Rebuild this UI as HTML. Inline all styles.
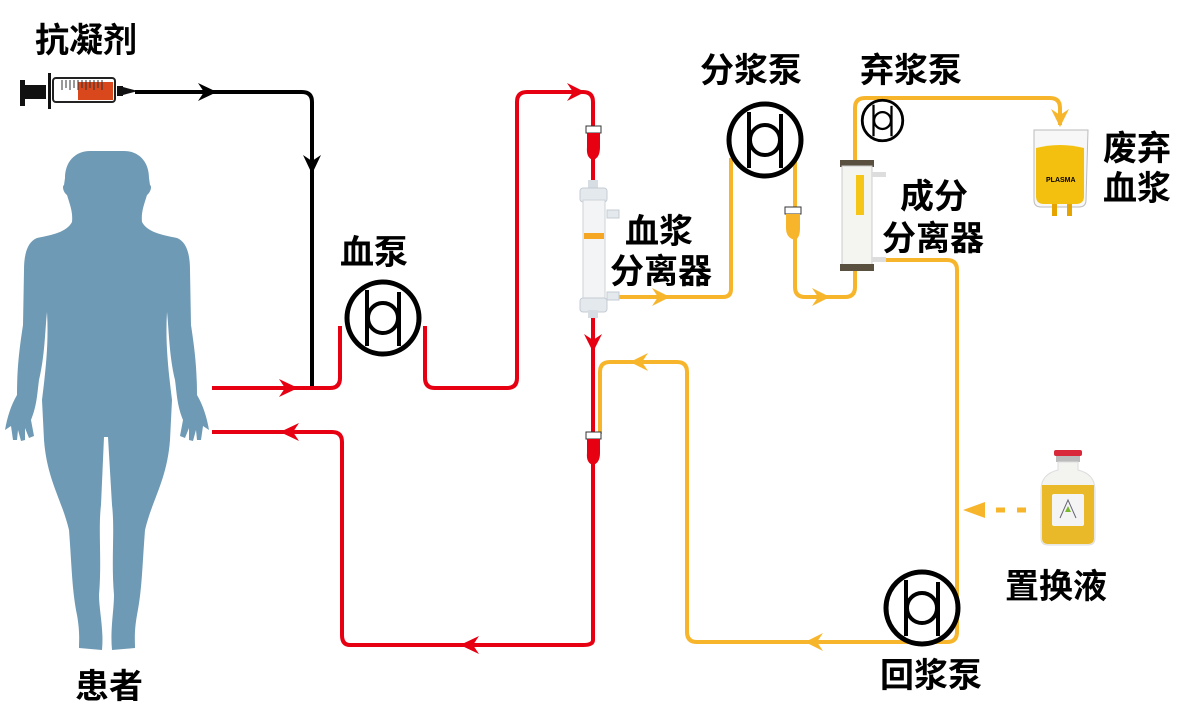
<!DOCTYPE html>
<html><head><meta charset="utf-8"><style>
html,body{margin:0;padding:0;background:#fff;}
svg{display:block}
text{font-family:"Liberation Sans","Noto Sans CJK SC",sans-serif;font-weight:bold;fill:#000;}
</style></head><body>
<svg width="1182" height="715" viewBox="0 0 1182 715" xmlns="http://www.w3.org/2000/svg">
<defs>
<symbol id="pump" viewBox="-40 -40 80 80" overflow="visible">
<circle cx="0" cy="0" r="36" fill="#fff" stroke="#000" stroke-width="5"/>
<line x1="-16" y1="-28" x2="-16" y2="28" stroke="#000" stroke-width="4"/>
<line x1="16" y1="-26" x2="16" y2="28" stroke="#000" stroke-width="4"/>
<circle cx="0" cy="0" r="15" fill="none" stroke="#000" stroke-width="4"/>
</symbol>
</defs>

<!-- patient silhouette -->
<path fill="#6f9ab5" d="M107 151 C122 151 132 162 132 178 L133 185 C135 186 134 192 130 195 C127 205 124 212 125 222 C130 232 145 235 160 238 C170 242 173 255 173 270 L174 325 C177 345 180 365 180 395 C186 405 190 418 192 430 L186 426 L184 440 L180 440 L179 430 L176 441 L172 440 L172 428 L168 438 L163 436 L166 420 C160 405 160 395 158 380 C152 355 152 330 150 312 C148 345 152 375 155 400 L153 440 C150 480 135 500 128 530 C125 570 125 590 120 615 C117 632 118 640 118 648 L95 650 C93 630 97 610 97 595 C94 560 98 530 95 505 L91 437 L87 437 L84 505 C81 530 85 560 82 595 C82 610 87 630 85 650 L62 648 C62 640 63 632 60 615 C55 590 55 570 52 530 C45 500 30 480 27 440 L25 400 C28 375 32 345 30 312 C28 330 28 355 22 380 C20 395 20 405 14 420 L17 436 L12 438 L8 428 L8 440 L4 441 L1 430 L0 440 L-4 440 L-6 426 L-12 430 C-10 418 -6 405 0 395 C0 365 3 345 6 325 L7 270 C7 255 10 242 20 238 C35 235 50 232 55 222 C56 212 53 205 50 195 C46 192 45 186 47 185 L48 178 C48 162 58 151 73 151 Z" transform="translate(17 0)"/>
<text x="75" y="698" font-size="34">患者</text>

<!-- syringe -->
<g>
<rect x="20" y="80" width="5" height="26" fill="#111"/>
<rect x="25" y="85" width="21" height="14" fill="#111"/>
<rect x="48" y="73" width="3" height="36" fill="#111"/>
<rect x="53" y="78" width="62" height="24" rx="3" fill="#fff" stroke="#222" stroke-width="2"/>
<rect x="78" y="82" width="35" height="18" fill="#d9471d"/>
<path d="M62 80v10M66 80v8M70 80v10M74 80v8M78 80v10M82 80v8M86 80v10M90 80v8M94 80v10M98 80v8M102 80v10" stroke="#333" stroke-width="1"/>
<rect x="117" y="86" width="6" height="10" fill="#111"/>
<path d="M123 87 L138 91 L123 95 Z" fill="#111"/>
</g>
<text x="35" y="52" font-size="34">抗凝剂</text>

<!-- black anticoag line -->
<path d="M135 92 H302 Q312 92 312 102 V388" fill="none" stroke="#000" stroke-width="4"/>
<path d="M198 83 L217 92 L198 101 L204 92 Z" fill="#000"/>
<path d="M303 155 L312 174 L321 155 L312 161 Z" fill="#000"/>

<!-- red lines -->
<g fill="none" stroke="#e60012" stroke-width="4" stroke-linejoin="round">
<path d="M212 388 H330 Q340 388 340 378 V326"/>
<path d="M425 326 V378 Q425 388 435 388 H507 Q517 388 517 378 V102 Q517 92 527 92 H583 Q593 92 593 102 V640 Q593 645 583 645 H350 Q342 645 342 635 V442 Q342 432 332 432 H212"/>
</g>
<path d="M279 379 L298 388 L279 397 L285 388 Z" fill="#e60012"/>
<path d="M567 83 L585 92 L567 101 L573 92 Z" fill="#e60012"/>
<path d="M584 334 L593 352 L602 334 L593 340 Z" fill="#e60012"/>
<path d="M479 636 L460 645 L479 654 L473 645 Z" fill="#e60012"/>
<path d="M299 423 L280 432 L299 441 L293 432 Z" fill="#e60012"/>

<!-- yellow lines -->
<g fill="none" stroke="#f7b52c" stroke-width="4" stroke-linejoin="round">
<path d="M607 297 H723 Q731 297 731 289 V158"/>
<path d="M795 158 V287 Q795 297 805 297 H845 Q855 297 855 287 V270"/>
<path d="M855 160 V108 Q855 98 865 98 H1050 Q1060 98 1060 108 V125"/>
<path d="M880 260 H947 Q957 260 957 270 V632 Q957 642 947 642 H697 Q687 642 687 632 V372 Q687 362 677 362 H610 Q600 362 600 372 V434"/>
</g>
<path d="M652 288 L670 297 L652 306 L658 297 Z" fill="#f7b52c"/>
<path d="M812 288 L830 297 L812 306 L818 297 Z" fill="#f7b52c"/>
<path d="M1051 109 L1060 127 L1069 109 L1060 115 Z" fill="#f7b52c"/>
<path d="M648 353 L630 362 L648 371 L642 362 Z" fill="#f7b52c"/>
<path d="M823 633 L805 642 L823 651 L817 642 Z" fill="#f7b52c"/>
<path d="M985 502 L963 510 L985 518 Z" fill="#f7b52c"/>
<path d="M996 510 H1030" stroke="#f7b52c" stroke-width="5" stroke-dasharray="9 12" fill="none"/>

<!-- drip chambers -->
<g>
<rect x="586" y="126" width="15" height="7" fill="#fff" stroke="#333" stroke-width="1"/>
<path d="M587 133 H600 V147 Q600 158 593 160 Q586 158 587 147 Z" fill="#e60012"/>
<rect x="586" y="432" width="15" height="7" fill="#fff" stroke="#333" stroke-width="1"/>
<path d="M587 439 H600 V453 Q600 463 593 465 Q586 463 587 453 Z" fill="#e60012"/>
<rect x="785" y="207" width="16" height="7" fill="#fff" stroke="#333" stroke-width="1"/>
<path d="M786 214 H800 V228 Q800 238 795 240 Q786 238 786 228 Z" fill="#f7b52c"/>
</g>

<!-- plasma separator -->
<g>
<rect x="588" y="180" width="10" height="10" fill="#d6dde3"/>
<rect x="580" y="188" width="27" height="14" rx="3" fill="#e4e9ee" stroke="#c5ccd3"/>
<rect x="607" y="210" width="12" height="8" fill="#e4e9ee" stroke="#c5ccd3"/>
<rect x="583" y="200" width="22" height="100" fill="#f2f4f6" stroke="#cdd3d8"/>
<rect x="584" y="233" width="20" height="6" fill="#f5a623"/>
<rect x="580" y="298" width="27" height="14" rx="3" fill="#e4e9ee" stroke="#c5ccd3"/>
<rect x="607" y="292" width="12" height="8" fill="#e4e9ee" stroke="#c5ccd3"/>
<rect x="588" y="310" width="10" height="8" fill="#d6dde3"/>
</g>
<text x="625" y="243" font-size="34">血浆</text>
<text x="610" y="283" font-size="34">分离器</text>

<!-- component separator -->
<g>
<rect x="840" y="160" width="34" height="7" fill="#5a5040"/>
<rect x="842" y="166" width="30" height="100" fill="#f4f4f0" stroke="#ccc"/>
<rect x="856" y="175" width="8" height="40" fill="#f5c518"/>
<rect x="840" y="264" width="34" height="7" fill="#5a5040"/>
<rect x="872" y="172" width="14" height="5" fill="#ddd"/>
<rect x="872" y="257" width="14" height="5" fill="#ddd"/>
</g>
<text x="900" y="208" font-size="34">成分</text>
<text x="882" y="250" font-size="34">分离器</text>

<!-- waste bag -->
<g>
<path d="M1034 130 H1088 L1086 200 Q1086 207 1079 207 H1041 Q1034 207 1034 200 Z" fill="#f7f7f7" stroke="#bbb"/>
<path d="M1036 148 Q1060 142 1084 148 V196 Q1084 204 1076 204 H1044 Q1036 204 1036 196 Z" fill="#f3c00f"/>
<text x="1046" y="182" font-size="7">PLASMA</text>
<rect x="1052" y="204" width="5" height="12" fill="#e5a400"/>
<rect x="1067" y="204" width="5" height="12" fill="#e5a400"/>
</g>
<text x="1103" y="160" font-size="34">废弃</text>
<text x="1103" y="200" font-size="34">血浆</text>

<!-- replacement bottle -->
<g>
<rect x="1054" y="450" width="28" height="6" rx="2" fill="#d8283a"/>
<rect x="1056" y="456" width="24" height="6" fill="#bbb"/>
<path d="M1058 462 H1078 V470 Q1095 474 1095 490 V538 Q1095 545 1088 545 H1048 Q1041 545 1041 538 V490 Q1041 474 1058 470 Z" fill="#f3f3f0" stroke="#ddd"/>
<path d="M1042 485 H1094 V538 Q1094 544 1088 544 H1048 Q1042 544 1042 538 Z" fill="#eab92a"/>
<rect x="1052" y="494" width="32" height="32" rx="2" fill="#f4f4f4"/>
<path d="M1060 518 L1068 500 L1076 518" fill="none" stroke="#667" stroke-width="1"/>
<path d="M1065 512 L1068 506 L1071 512 Z" fill="#7cb82f"/>
</g>
<text x="1005" y="598" font-size="34">置换液</text>

<!-- pumps -->
<use href="#pump" x="343" y="278" width="80" height="80"/>
<text x="340" y="264" font-size="34">血泵</text>
<use href="#pump" x="725" y="100" width="80" height="80"/>
<text x="700" y="82" font-size="34">分浆泵</text>
<use href="#pump" x="860" y="98" width="45" height="45"/>
<text x="860" y="82" font-size="34">弃浆泵</text>
<use href="#pump" x="882" y="568" width="80" height="80"/>
<text x="880" y="687" font-size="34">回浆泵</text>
</svg>
</body></html>
